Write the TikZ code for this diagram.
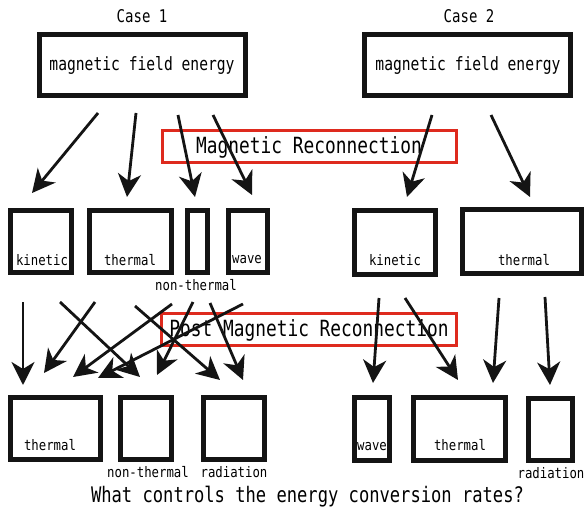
\documentclass[tikz,border=0pt]{standalone}
\usepackage{fontspec}
\setmonofont{DejaVu Sans Mono}[FakeStretch=0.8]
\newfontfamily\labfont{DejaVu Sans Mono}[FakeStretch=0.85]
\usetikzlibrary{arrows.meta}
\definecolor{rcred}{RGB}{222,42,30}
\tikzset{
  energybox/.style={draw=black!92, line width=5pt, inner sep=0pt, rectangle},
  phasebox/.style={draw=rcred, line width=3pt, inner sep=0pt, rectangle},
  bigtxt/.style={font=\ttfamily\fontsize{18.3}{20}\selectfont, inner sep=0pt},
  headtxt/.style={font=\ttfamily\fontsize{17.5}{19}\selectfont, inner sep=0pt},
  phasetxt/.style={font=\ttfamily\fontsize{22.3}{24}\selectfont, inner sep=0pt},
  smalltxt/.style={font=\labfont\fontsize{14.5}{16}\selectfont, inner sep=0pt},
  flow/.style={draw=black!92, line width=2.8pt, -{Stealth[length=23pt,width=23pt,inset=7pt]}},
}
\begin{document}
\begin{tikzpicture}[x=1pt,y=-1pt]
\useasboundingbox[fill=white] (0,0) rectangle (585,513);

% ---- headings and source boxes
\node[headtxt] (c1) at (142,16) {Case 1};
\node[headtxt] (c2) at (469,16) {Case 2};
\node[energybox, minimum width=206pt, minimum height=61pt] (m1) at (142.5,65) {};
\node[energybox, minimum width=206pt, minimum height=61pt] (m2) at (467.5,65) {};
\node[bigtxt] (m1t) at (142,65) {magnetic field energy};
\node[bigtxt] (m2t) at (468,65) {magnetic field energy};

% ---- phase labels
\node[phasebox, minimum width=294pt, minimum height=32pt] (rm) at (309.5,146.5) {};
\node[phasetxt] (rmt) at (309,147) {Magnetic Reconnection};
\node[phasebox, minimum width=295pt, minimum height=32pt] (rp) at (309,329.5) {};
\node[phasetxt] (rpt) at (309,330) {Post Magnetic Reconnection};

% ---- intermediate energy forms
\node[energybox, minimum width=61pt, minimum height=62pt] (k1) at (41,241.5) {};
\node[energybox, minimum width=82pt, minimum height=62pt] (t1) at (130.5,241.5) {};
\node[energybox, minimum width=20pt, minimum height=62pt] (n1) at (197.5,241.5) {};
\node[energybox, minimum width=39pt, minimum height=62pt] (w1) at (248,241.5) {};
\node[energybox, minimum width=81pt, minimum height=64pt] (k2) at (395,242.5) {};
\node[energybox, minimum width=119pt, minimum height=64pt] (t2) at (522,241.5) {};
\node[smalltxt] (k1t) at (42,260) {kinetic};
\node[smalltxt] (t1t) at (130,260) {thermal};
\node[smalltxt] (w1t) at (247,260) {wave};
\node[smalltxt] (n1t) at (196,285) {non-thermal};
\node[smalltxt] (k2t) at (395,260) {kinetic};
\node[smalltxt] (t2t) at (524,260) {thermal};

% ---- final energy forms
\node[energybox, minimum width=90pt, minimum height=62pt] (bt1) at (55.5,428.5) {};
\node[energybox, minimum width=51pt, minimum height=62pt] (bn1) at (146,428.5) {};
\node[energybox, minimum width=61pt, minimum height=62pt] (br1) at (234,428.5) {};
\node[energybox, minimum width=35pt, minimum height=63pt] (bw2) at (372,429) {};
\node[energybox, minimum width=92pt, minimum height=63pt] (bt2) at (459.5,429) {};
\node[energybox, minimum width=44pt, minimum height=62pt] (br2) at (550.5,429.5) {};
\node[smalltxt] (bt1t) at (50,445) {thermal};
\node[smalltxt] (bn1t) at (148,472) {non-thermal};
\node[smalltxt] (br1t) at (234,472) {radiation};
\node[smalltxt] (bw2t) at (372,447) {wave};
\node[smalltxt] (bt2t) at (460,445) {thermal};
\node[smalltxt] (br2t) at (551,473) {radiation};

\node[phasetxt, font=\ttfamily\fontsize{21.4}{23}\selectfont] (q) at (307.5,497) {What controls the energy conversion rates?};

% ---- arrow end points
\coordinate (a1s) at (98,113);  \coordinate (a1e) at (32,193);
\coordinate (a2s) at (136,113); \coordinate (a2e) at (127,197);
\coordinate (a3s) at (178,115); \coordinate (a3e) at (195,197);
\coordinate (a4s) at (213,115); \coordinate (a4e) at (252,195);
\coordinate (a5s) at (432,115); \coordinate (a5e) at (407,197);
\coordinate (a6s) at (491,115); \coordinate (a6e) at (530,197);

\coordinate (b1s) at (23,302);  \coordinate (b1e) at (23,385);
\coordinate (b2s) at (60,302);  \coordinate (b2e) at (140,377);
\coordinate (b3s) at (95,302);  \coordinate (b3e) at (44,373);
\coordinate (b4s) at (135,306); \coordinate (b4e) at (220,380);
\coordinate (b5s) at (172,304); \coordinate (b5e) at (73,377);
\coordinate (b6s) at (193,302); \coordinate (b6e) at (157,375);
\coordinate (b7s) at (210,303); \coordinate (b7e) at (243,380);
\coordinate (b8s) at (243,304); \coordinate (b8e) at (98,378);

\coordinate (d1s) at (379,298); \coordinate (d1e) at (373,383);
\coordinate (d2s) at (405,298); \coordinate (d2e) at (458,380);
\coordinate (d3s) at (499,298); \coordinate (d3e) at (493,383);
\coordinate (d4s) at (545,297); \coordinate (d4e) at (550,385);

% ---- energy flows
\foreach \p in {a1,a2,a3,a4,a5,a6,b1,b2,b3,b4,b5,b6,b7,b8,d1,d2,d3,d4}
  \draw[flow] (\p s) -- (\p e);
\end{tikzpicture}
\end{document}
